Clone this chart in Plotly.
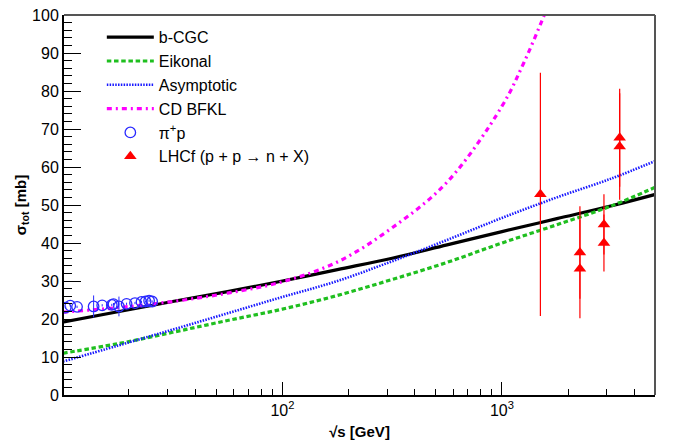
import plotly.graph_objects as go

# ---- data ----
curve_sqrt_s = [10, 17.8, 31.6, 56.2, 100, 178, 316, 562, 1000, 1778, 3162, 5000]
bcgc = [19.2, 21.9, 24.6, 27.2, 30.0, 33.0, 36.0, 39.5, 43.0, 46.4, 49.8, 52.8]
eikonal = [11.0, 13.5, 16.5, 19.6, 22.6, 26.2, 30.4, 34.9, 40.0, 44.8, 49.8, 54.7]
asymptotic = [8.8, 13.0, 17.2, 21.5, 25.8, 30.0, 35.2, 40.8, 46.6, 52.0, 57.0, 61.6]

bfkl_sqrt_s = [10, 17.8, 31.6, 56.2, 100, 178, 316, 562, 1000, 1259, 1585, 1995]
cd_bfkl = [21.8, 23.0, 24.6, 26.8, 29.8, 35.0, 44.0, 56.0, 76.0, 87.5, 101.0, 115.0]

pip_sqrt_s = [10.3, 10.8, 11.6, 13.8, 15.1, 16.7, 17.0, 18.0, 19.5, 21.3, 22.8, 23.8, 24.7, 25.5]
pip_sigma = [23.0, 23.5, 23.2, 23.3, 23.6, 23.7, 23.9, 23.3, 24.0, 24.2, 24.5, 24.6, 24.8, 24.6]
pip_err = [0.3, 0.3, 0.3, 2.9, 0.3, 0.3, 0.3, 2.6, 0.3, 0.3, 0.3, 0.3, 0.3, 0.3]

lhcf_sqrt_s = [1496, 2265, 2265, 2914, 2914, 3436, 3436]
lhcf_sigma = [52.8, 37.5, 33.2, 44.9, 40.0, 67.7, 65.4]
lhcf_err = [32.0, 12.2, 13.0, 7.9, 7.5, 12.9, 14.0]

x_major = [100, 1000]
x_major_text = ["10<sup>2</sup>", "10<sup>3</sup>"]
x_minor = [20, 30, 40, 50, 60, 70, 80, 90, 200, 300, 400, 500, 600, 700, 800, 900, 2000, 3000, 4000]

FONT = "Liberation Sans, Arial, Helvetica, sans-serif"

fig = go.Figure()
fig.add_trace(go.Scatter(x=curve_sqrt_s, y=bcgc, mode="lines", name="b-CGC",
                         line=dict(color="black", width=3.2, shape="spline")))
fig.add_trace(go.Scatter(x=curve_sqrt_s, y=eikonal, mode="lines", name="Eikonal",
                         line=dict(color="#1fbf1f", width=3.2, dash="4.5px,2.7px", shape="spline")))
fig.add_trace(go.Scatter(x=curve_sqrt_s, y=asymptotic, mode="lines", name="Asymptotic",
                         line=dict(color="#1a1aff", width=2.6, dash="1.5px,1.3px", shape="spline")))
fig.add_trace(go.Scatter(x=bfkl_sqrt_s, y=cd_bfkl, mode="lines", name="CD BFKL",
                         line=dict(color="#ff00ff", width=3.2, dash="5px,4px,2px,4px", shape="spline")))
fig.add_trace(go.Scatter(x=pip_sqrt_s, y=pip_sigma, mode="markers", name="π<sup>+</sup>p",
                         marker=dict(symbol="circle-open", size=10.5, color="#2a2aff", line=dict(width=1.3)),
                         error_y=dict(type="data", array=pip_err, color="#2a2aff", thickness=1, width=0)))
fig.add_trace(go.Scatter(x=lhcf_sqrt_s, y=lhcf_sigma, mode="markers", name="LHCf (p + p → n + X)",
                         marker=dict(symbol="triangle-up", size=11, color="#ff0000"),
                         error_y=dict(type="data", array=lhcf_err, color="#ff0000", thickness=1.2, width=0)))

fig.update_layout(
    width=676, height=445,
    margin=dict(l=64, r=21, t=15, b=50),
    paper_bgcolor="white", plot_bgcolor="white",
    font=dict(family=FONT, size=16, color="black"),
    showlegend=True,
    legend=dict(x=0.064, y=0.986, xanchor="left", yanchor="top",
                bgcolor="rgba(255,255,255,0)", borderwidth=0,
                font=dict(size=16), tracegroupgap=0, itemwidth=47),
    xaxis=dict(type="log", range=[1.005, 3.697], automargin=False,
               tickmode="array", tickvals=x_major, ticktext=x_major_text,
               ticks="inside", ticklen=13, tickwidth=1, tickcolor="black",
               minor=dict(tickmode="array", tickvals=x_minor, ticks="inside", ticklen=6,
                          tickwidth=1, tickcolor="black", showgrid=False),
               showline=True, linecolor="black", linewidth=2, mirror=False,
               showgrid=False, zeroline=False,
               tickfont=dict(size=16),
               title=dict(text="<b>√s [GeV]</b>", font=dict(size=15), standoff=8)),
    yaxis=dict(range=[0, 100], tickmode="linear", tick0=0, dtick=10, automargin=False,
               ticks="inside", ticklen=17, tickwidth=1, tickcolor="black",
               minor=dict(tickmode="linear", tick0=0, dtick=2, ticks="inside", ticklen=8,
                          tickwidth=1, tickcolor="black", showgrid=False),
               showline=True, linecolor="black", linewidth=2, mirror=False,
               showgrid=False, zeroline=False,
               tickfont=dict(size=16),
               title=dict(text="<b>σ<sub>tot</sub> [mb]</b>", font=dict(size=15), standoff=2)),
)
# frame (top and right edges)
fig.add_shape(type="line", xref="paper", yref="paper", x0=0, x1=1, y0=1, y1=1,
              line=dict(color="#555555", width=2))
fig.add_shape(type="line", xref="paper", yref="paper", x0=1, x1=1, y0=0, y1=1,
              line=dict(color="#555555", width=2))

fig.write_html("out.html")
